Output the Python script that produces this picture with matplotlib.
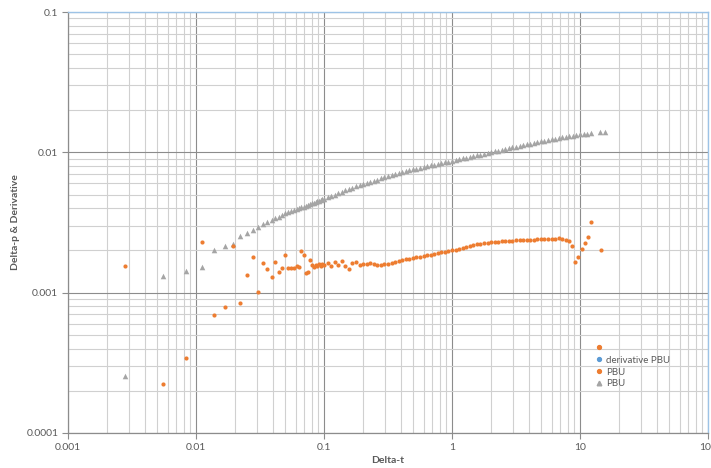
import matplotlib
matplotlib.use("Agg")
import matplotlib.pyplot as plt
from matplotlib.lines import Line2D
from matplotlib.ticker import LogLocator, FixedLocator, NullFormatter, FixedFormatter

plt.rcParams['font.family'] = ['Lato', 'DejaVu Sans']

# Elapsed shut-in time (hours), shared by both series up to ~8 h
dt = [0.00278, 0.00556, 0.00833, 0.0111, 0.0139, 0.0167, 0.0194, 0.0222, 0.0250, 0.0278,
      0.0306, 0.0333, 0.0361, 0.0389, 0.0417, 0.0444, 0.0472, 0.0500, 0.0528, 0.0556,
      0.0583, 0.0611, 0.0639, 0.0667, 0.0694, 0.0722, 0.0750, 0.0778, 0.0806, 0.0833,
      0.0861, 0.0889, 0.0917, 0.0944, 0.0972, 0.1000,
      0.1066, 0.1136, 0.1212, 0.1292, 0.1377, 0.1468, 0.1565, 0.1668, 0.1778, 0.1896,
      0.2021, 0.2154, 0.2297, 0.2448, 0.2610, 0.2783, 0.2967, 0.3162, 0.3372, 0.3594,
      0.3831, 0.4084, 0.4354, 0.4642, 0.4948, 0.5275, 0.5623, 0.5995, 0.6391, 0.6813,
      0.7263, 0.7743, 0.8254, 0.8799, 0.9380, 1.000,
      1.066, 1.136, 1.212, 1.292, 1.377, 1.468, 1.565, 1.668, 1.778, 1.896,
      2.021, 2.154, 2.297, 2.448, 2.610, 2.783, 2.967, 3.162, 3.372, 3.594,
      3.831, 4.084, 4.354, 4.642, 4.948, 5.275, 5.623, 5.995, 6.391, 6.813,
      7.263, 7.743, 8.254]

# Pressure change (triangles)
dt_dp_end = [8.80, 9.38, 10.0, 10.66, 11.36, 12.12, 14.3, 15.7]
delta_p = [0.000255, 0.00131, 0.00142, 0.00152, 0.00201, 0.00215, 0.00224, 0.00253, 0.00266, 0.00279,
           0.00296, 0.00308, 0.0032, 0.0033, 0.0034, 0.00348, 0.00358, 0.00367, 0.00374, 0.0038,
           0.00386, 0.00393, 0.00399, 0.00405, 0.00411, 0.00417, 0.00423, 0.00428, 0.00433, 0.00438,
           0.00443, 0.00448, 0.00453, 0.00458, 0.00463, 0.00468,
           0.00478, 0.00489, 0.005, 0.00512, 0.00523, 0.00535, 0.00547, 0.00559, 0.00572, 0.00585,
           0.00598, 0.00608, 0.00619, 0.00629, 0.0064, 0.00651, 0.00662, 0.00673, 0.00684, 0.00696,
           0.00708, 0.0072, 0.00732, 0.00745, 0.00757, 0.00767, 0.00777, 0.00787, 0.00797, 0.00807,
           0.00818, 0.00828, 0.00839, 0.00849, 0.0086, 0.00871, 0.00883, 0.00894, 0.00906, 0.00917,
           0.00929, 0.00941, 0.00953, 0.00965, 0.00978, 0.0099, 0.01003, 0.01016, 0.01029, 0.01042,
           0.01056, 0.01069, 0.01083, 0.01097, 0.01111, 0.01125, 0.0114, 0.01154, 0.01169, 0.01184,
           0.012, 0.01212, 0.01225, 0.01237, 0.0125, 0.01263, 0.01276, 0.01289, 0.01302, 0.01316,
           0.01329, 0.01343, 0.01352, 0.01362, 0.01372,
           0.0139, 0.0139]

# Pressure derivative (dots)
dt_deriv_end = [8.66, 9.14, 9.64, 10.4, 10.9, 11.5, 12.2, 14.6]
deriv = [0.00155, 0.000223, 0.000342, 0.0023, 0.000692, 0.000789, 0.00215, 0.000843, 0.00134, 0.00179,
         0.00101, 0.00163, 0.00147, 0.00129, 0.00165, 0.0014, 0.0015, 0.00185, 0.00151, 0.00151,
         0.00149, 0.00155, 0.00153, 0.00199, 0.00185, 0.00137, 0.00141, 0.00171, 0.00157, 0.00152,
         0.00158, 0.00155, 0.00161, 0.00154, 0.0016, 0.00157,
         0.00162, 0.00156, 0.00165, 0.00158, 0.00167, 0.00155, 0.00148, 0.00163, 0.00166, 0.00158,
         0.00161, 0.00159, 0.00162, 0.0016, 0.00158, 0.00157, 0.0016, 0.00161, 0.00164, 0.00166,
         0.00168, 0.00171, 0.00173, 0.00175, 0.00177, 0.00180, 0.00181, 0.00184, 0.00185, 0.00187,
         0.00190, 0.00191, 0.00194, 0.00195, 0.00198, 0.002, 0.00203, 0.00206, 0.00208, 0.00212,
         0.00215, 0.00219, 0.00221, 0.00222, 0.00225, 0.00225, 0.00228, 0.00230, 0.00231, 0.00233,
         0.00233, 0.00235, 0.00234, 0.00236, 0.00236, 0.00238, 0.00237, 0.00239, 0.00238, 0.0024,
         0.0024, 0.00242, 0.00241, 0.00243, 0.00242, 0.00244, 0.00243, 0.00238, 0.00232,
         0.00215, 0.00165, 0.00179, 0.00205, 0.00226, 0.00249, 0.00318, 0.00201]

x_ticks = [0.001, 0.01, 0.1, 1, 10, 100]
x_labels = ["0.001", "0.01", "0.1", "1", "10", "100"]
y_ticks = [0.0001, 0.001, 0.01, 0.1]
y_labels = ["0.0001", "0.001", "0.01", "0.1"]

orange = "#ED7D31"
grey = "#A5A5A5"
blue = "#5B9BD5"
text_c = "#595959"

fig = plt.figure(figsize=(7.11, 4.68), dpi=100)
ax = fig.add_axes([68 / 711, 1 - 433 / 468, 640 / 711, 421 / 468])

ax.set_xscale("log")
ax.set_yscale("log")
ax.set_xlim(0.001, 100)
ax.set_ylim(0.0001, 0.1)

ax.scatter(dt + dt_dp_end, delta_p, marker="^", s=16, color=grey, linewidths=0, zorder=3)
ax.scatter(dt + dt_deriv_end, deriv, marker="o", s=9, color=orange, linewidths=0, zorder=4)

ax.xaxis.set_major_locator(FixedLocator(x_ticks))
ax.xaxis.set_major_formatter(FixedFormatter(x_labels))
ax.yaxis.set_major_locator(FixedLocator(y_ticks))
ax.yaxis.set_major_formatter(FixedFormatter(y_labels))
ax.xaxis.set_minor_locator(LogLocator(base=10, subs=range(2, 10)))
ax.yaxis.set_minor_locator(LogLocator(base=10, subs=range(2, 10)))
ax.xaxis.set_minor_formatter(NullFormatter())
ax.yaxis.set_minor_formatter(NullFormatter())

ax.grid(True, which="major", color="#8C8C8C", linewidth=0.8, zorder=0)
ax.grid(True, which="minor", color="#D0D0D0", linewidth=0.8, zorder=0)
ax.set_axisbelow(True)

ax.tick_params(which="major", direction="out", length=4, width=0.8, color="#8C8C8C",
               labelsize=7.5, labelcolor=text_c, pad=3)
ax.tick_params(which="minor", length=0)

for side in ("left", "bottom"):
    ax.spines[side].set_color("#8C8C8C")
    ax.spines[side].set_linewidth(0.9)
for side in ("top", "right"):
    ax.spines[side].set_color("#9DC3E6")
    ax.spines[side].set_linewidth(1.0)

ax.set_xlabel("Delta-t", fontsize=7.5, fontweight="bold", color=text_c)
ax.xaxis.set_label_coords(0.5, -0.055)
ax.set_ylabel("Delta-p & Derivative", fontsize=7.5, fontweight="bold", color=text_c)
ax.yaxis.set_label_coords(-0.075, 0.5)

handles = [
    Line2D([], [], linestyle="none", marker="o", markersize=2.8, color=orange),
    Line2D([], [], linestyle="none", marker="o", markersize=2.8, color=blue),
    Line2D([], [], linestyle="none", marker="o", markersize=2.8, color=orange),
    Line2D([], [], linestyle="none", marker="^", markersize=3.3, color=grey),
]
labels = [" ", "derivative PBU", "PBU", "PBU"]
ax.legend(handles, labels, loc="upper left", bbox_to_anchor=(0.824, 0.212),
          frameon=False, fontsize=7, labelcolor=text_c, handlelength=0.8,
          handletextpad=0.3, labelspacing=0.3, borderaxespad=0, borderpad=0)

fig.savefig("out.png", dpi=100)
